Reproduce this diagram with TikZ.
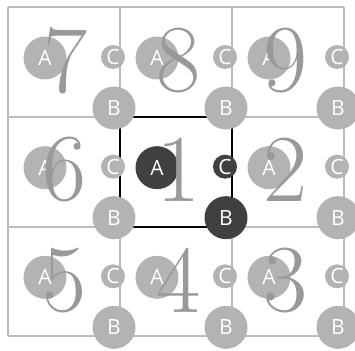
\documentclass[tikz,border=0pt]{standalone}
\usepackage{fontspec}
\newfontfamily\lettfont{Open Sans}
\definecolor{gridgray}{HTML}{BBBBBB}
\definecolor{circgray}{HTML}{B3B3B3}
\definecolor{circdark}{HTML}{404040}
\definecolor{digitgray}{HTML}{999999}
\begin{document}
\begin{tikzpicture}[x=1pt,y=-1pt,
  gridline/.style={draw=gridgray,line width=2pt},
  boxline/.style={draw=black,line width=2pt},
  bigcirc/.style={circle,fill=circgray,minimum size=43pt,inner sep=0pt,text=white,font=\lettfont\fontsize{21}{21}\selectfont},
  smallcirc/.style={circle,fill=circgray,minimum size=24pt,inner sep=0pt,text=white,font=\lettfont\fontsize{21}{21}\selectfont},
  dark/.style={fill=circdark},
  digit/.style={inner sep=0pt,text=digitgray,font=\fontsize{96}{96}\selectfont}]
\useasboundingbox (0,0) rectangle (355,350);
% grid
\foreach \x in {8,120,232,344} \draw[gridline] (\x,7) -- (\x,336);
\foreach \y in {7,117,227,336} \draw[gridline] (8,\y) -- (344,\y);
% centre box
\draw[boxline] (120,117) rectangle (232,227);
% cells
\foreach \n/\c/\r/\dx/\dy in {7/0/0/58/54,8/1/0/59/54,9/2/0/54/54,6/0/1/57/53,1/1/1/59/53,2/2/1/54/53,5/0/2/57/54,4/1/2/59/54,3/2/2/54/54}{
  \pgfmathsetmacro{\lx}{8+112*\c}
  \pgfmathsetmacro{\ty}{7+109.67*\r}
  \ifnum\n=1
    \node[bigcirc,dark] (A\n) at (\lx+37,\ty+51) {A};
    \node[smallcirc,dark] (C\n) at (\lx+105,\ty+50) {C};
    \node[bigcirc,dark] (B\n) at (\lx+106,\ty+101) {B};
  \else
    \node[bigcirc] (A\n) at (\lx+37,\ty+51) {A};
    \node[smallcirc] (C\n) at (\lx+105,\ty+50) {C};
    \node[bigcirc] (B\n) at (\lx+106,\ty+101) {B};
  \fi
  \node[digit] (n\n) at (\lx+\dx,\ty+\dy) {\n};
}
\end{tikzpicture}
\end{document}
